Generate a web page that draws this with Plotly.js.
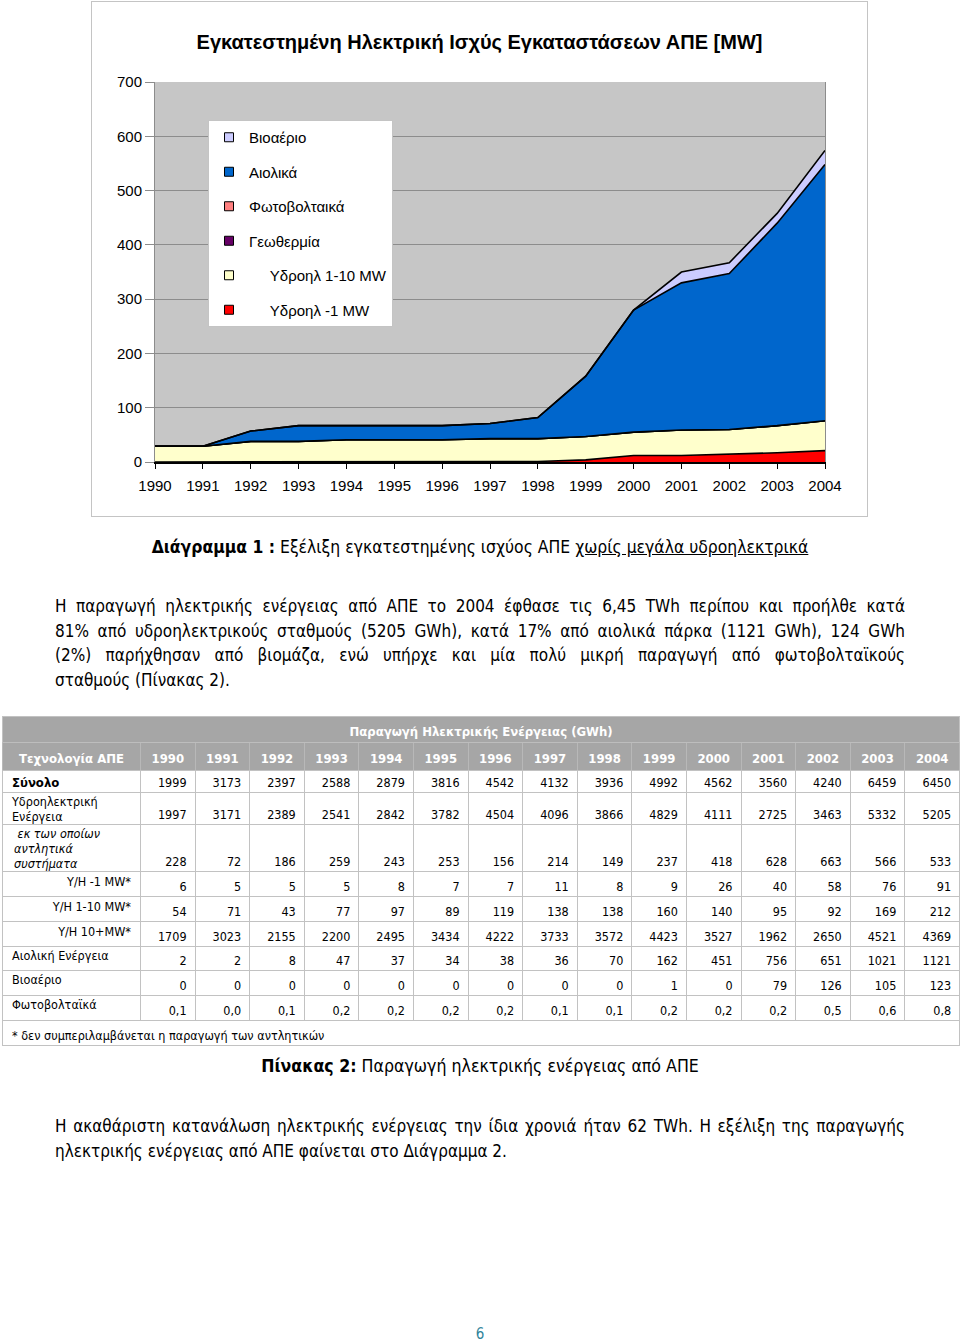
<!DOCTYPE html>
<html>
<head>
<meta charset="utf-8">
<script src="https://cdn.plot.ly/plotly-3.0.1.min.js"></script>
<style>
  html, body { margin: 0; padding: 0; }
  body { width: 960px; height: 1342px; position: relative; background: #fff; overflow: hidden;
         font-family: "DejaVu Sans", Verdana, sans-serif; font-stretch: condensed; color: #000; }
  #chartWrap { position: absolute; left: 91px; top: 1px; width: 775px; height: 514px; border: 1px solid #c4c4c4; font-stretch: normal; }
  #chart { width: 775px; height: 514px; }
  .cap { position: absolute; left: 0; width: 960px; text-align: center; white-space: nowrap; }
  .para { position: absolute; left: 55px; width: 850px; font-size: 17px; line-height: 24.5px; }
  .para .j { text-align: justify; text-align-last: justify; }
  .para .l { text-align: left; }
  #tbl { position: absolute; left: 2px; top: 716px; border-collapse: collapse; table-layout: fixed; width: 957px; font-size: 12.5px; }
  #tbl td { border: 1px solid #c2c2c2; padding: 0; overflow: hidden; white-space: nowrap; }
  #tbl tr.title td { background: #a6a6a6; color: #fff; font-weight: bold; text-align: center; font-size: 13px; height: 21px; border-bottom: 1px solid #bdbdbd; padding-top: 4px; }
  #tbl tr.head td { background: #a6a6a6; color: #fff; font-weight: bold; text-align: center; font-size: 13px; height: 23px; border-left: 1px solid #b8b8b8; border-right: 1px solid #b8b8b8; border-top: 1px solid #b8b8b8; padding-top: 4px; }
  #tbl td.v { text-align: right; vertical-align: bottom; padding-right: 8px; padding-bottom: 2px; }
  #tbl td.lab { vertical-align: top; padding-left: 9px; line-height: 15px; padding-top: 1px; }
  #tbl td.lab.bold { font-weight: bold; vertical-align: bottom; padding-bottom: 2px; font-size: 13px; }
  #tbl td.lab.it { font-style: italic; padding-left: 11px; }
  #tbl td.lab.rt { text-align: right; padding-right: 9px; padding-left: 0; padding-top: 2px; }
  #tbl td.foot { padding-left: 9px; vertical-align: bottom; padding-bottom: 2px; }
  #pg { position: absolute; left: 0; width: 960px; top: 1325px; text-align: center; font-size: 15px; color: #31849b; }
</style>
</head>
<body>
<div id="chartWrap"><div id="chart"></div></div>

<div class="cap" style="top:537px; font-size:17.4px;"><b>Διάγραμμα 1 :</b> Εξέλιξη εγκατεστημένης ισχύος ΑΠΕ <u>χωρίς μεγάλα υδροηλεκτρικά</u></div>

<div class="para" style="top:594px;">
  <div class="j">Η παραγωγή ηλεκτρικής ενέργειας από ΑΠΕ το 2004 έφθασε τις 6,45 TWh περίπου και προήλθε κατά</div>
  <div class="j">81% από υδροηλεκτρικούς σταθμούς (5205 GWh), κατά 17% από αιολικά πάρκα (1121 GWh), 124 GWh</div>
  <div class="j">(2%) παρήχθησαν από βιομάζα, ενώ υπήρχε και μία πολύ μικρή παραγωγή από φωτοβολταϊκούς</div>
  <div class="l">σταθμούς (Πίνακας 2).</div>
</div>

<table id="tbl"></table>

<div class="cap" style="top:1056px; font-size:17.6px;"><b>Πίνακας 2:</b> Παραγωγή ηλεκτρικής ενέργειας από ΑΠΕ</div>

<div class="para" style="top:1114px;">
  <div class="j">Η ακαθάριστη κατανάλωση ηλεκτρικής ενέργειας την ίδια χρονιά ήταν 62 TWh. Η εξέλιξη της παραγωγής</div>
  <div class="l">ηλεκτρικής ενέργειας από ΑΠΕ φαίνεται στο Διάγραμμα 2.</div>
</div>

<div id="pg">6</div>

<script>
// ---------- Chart data: installed capacity [MW] ----------
var years = [1990, 1991, 1992, 1993, 1994, 1995, 1996, 1997, 1998, 1999, 2000, 2001, 2002, 2003, 2004];
var hydroUnder1MW = [0, 0, 0, 0, 0, 0, 0, 1, 1, 4, 12, 12, 14, 17, 21];
var hydro1to10MW  = [29, 29, 38, 38, 41, 41, 41, 42, 42, 43, 43, 47, 46, 50, 55];
var geothermal    = [0, 0, 0, 0, 0, 0, 0, 0, 0, 0, 0, 0, 0, 0, 0];
var photovoltaic  = [0, 0, 0, 0, 0, 0, 0, 0, 0, 0, 0, 0, 0, 0, 0];
var wind          = [0, 0, 19, 29, 26, 26, 26, 28, 39, 111, 225, 271, 287, 373, 472];
var biogas        = [0, 0, 0, 0, 0, 0, 0, 0, 0, 0, 0, 20, 20, 18, 26];
var yTicks = [0, 100, 200, 300, 400, 500, 600, 700];

var seriesNames = ['Υδροηλ -1 MW', 'Υδροηλ 1-10 MW', 'Γεωθερμία', 'Φωτοβολταικά', 'Αιολικά', 'Βιοαέριο'];
var seriesData = [hydroUnder1MW, hydro1to10MW, geothermal, photovoltaic, wind, biogas];
var seriesColors = ['#ff0000', '#ffffcc', '#660066', '#ff8080', '#0066cc', '#ccccff'];
var legendIndent = ['\u00a0\u00a0\u00a0\u00a0\u00a0', '\u00a0\u00a0\u00a0\u00a0\u00a0', '', '', '', ''];

var traces = [];
for (var i = 0; i < seriesData.length; i++) {
  traces.push({
    type: 'scatter', mode: 'lines', x: years, y: seriesData[i], stackgroup: 'one',
    fillcolor: seriesColors[i], line: {color: '#000', width: 1.6}, showlegend: false, hoverinfo: 'skip'
  });
}
// legend entries (top to bottom order: Βιοαέριο ... Υδροηλ -1)
for (var k = seriesData.length - 1; k >= 0; k--) {
  traces.push({
    type: 'scatter', mode: 'markers', x: [null], y: [null], name: legendIndent[k] + seriesNames[k],
    legendgroup: 'g' + k, showlegend: true,
    marker: {symbol: 'square', size: 9, color: seriesColors[k], line: {color: '#000', width: 1}}
  });
}

var font = 'Liberation Sans, Arial, sans-serif';
var layout = {
  width: 775, height: 514,
  margin: {l: 63, r: 42, t: 80, b: 54},
  paper_bgcolor: '#ffffff', plot_bgcolor: '#c6c6c6',
  font: {family: font, size: 15, color: '#000'},
  title: {text: '<b>Εγκατεστημένη Ηλεκτρική Ισχύς Εγκαταστάσεων ΑΠΕ [MW]</b>', font: {family: font, size: 20, color: '#000'},
          xref: 'container', x: 0.5, xanchor: 'center', yref: 'container', y: 1 - 40 / 514, yanchor: 'middle'},
  xaxis: {range: [1990, 2004], tickmode: 'array', tickvals: years, ticktext: years.map(String),
          showgrid: false, zeroline: false, showline: true, linecolor: '#000', linewidth: 1.5,
          ticks: 'outside', ticklen: 5, tickcolor: '#000', tickwidth: 1, ticklabelstandoff: 4,
          tickfont: {family: font, size: 15, color: '#000'}},
  yaxis: {range: [0, 700], tickmode: 'array', tickvals: yTicks, ticktext: yTicks.map(String),
          showgrid: true, gridcolor: '#8c8c8c', gridwidth: 1, zeroline: false,
          showline: true, linecolor: '#8c8c8c', linewidth: 1, mirror: true,
          ticks: 'outside', ticklen: 9, tickcolor: '#8c8c8c', tickfont: {family: font, size: 15, color: '#000'}},
  showlegend: true,
  legend: {x: (208 - 155) / 670, y: (462 - 120) / 380, xanchor: 'left', yanchor: 'top',
           bgcolor: '#ffffff', bordercolor: '#c4c4c4', borderwidth: 1,
           traceorder: 'grouped', tracegroupgap: 12, font: {family: font, size: 15, color: '#000'}}
};
Plotly.newPlot('chart', traces, layout, {staticPlot: true, displayModeBar: false});

// ---------- Table data: electricity production [GWh] ----------
var tableTitle = 'Παραγωγή Ηλεκτρικής Ενέργειας (GWh)';
var tableHeadLabel = 'Τεχνολογία ΑΠΕ';
var tableYears = ['1990', '1991', '1992', '1993', '1994', '1995', '1996', '1997', '1998', '1999', '2000', '2001', '2002', '2003', '2004'];
var totalGWh     = ['1999', '3173', '2397', '2588', '2879', '3816', '4542', '4132', '3936', '4992', '4562', '3560', '4240', '6459', '6450'];
var hydroGWh     = ['1997', '3171', '2389', '2541', '2842', '3782', '4504', '4096', '3866', '4829', '4111', '2725', '3463', '5332', '5205'];
var pumpedGWh    = ['228', '72', '186', '259', '243', '253', '156', '214', '149', '237', '418', '628', '663', '566', '533'];
var hydroUnder1GWh = ['6', '5', '5', '5', '8', '7', '7', '11', '8', '9', '26', '40', '58', '76', '91'];
var hydro1to10GWh  = ['54', '71', '43', '77', '97', '89', '119', '138', '138', '160', '140', '95', '92', '169', '212'];
var hydroOver10GWh = ['1709', '3023', '2155', '2200', '2495', '3434', '4222', '3733', '3572', '4423', '3527', '1962', '2650', '4521', '4369'];
var windGWh      = ['2', '2', '8', '47', '37', '34', '38', '36', '70', '162', '451', '756', '651', '1021', '1121'];
var biogasGWh    = ['0', '0', '0', '0', '0', '0', '0', '0', '0', '1', '0', '79', '126', '105', '123'];
var pvGWh        = ['0,1', '0,0', '0,1', '0,2', '0,2', '0,2', '0,2', '0,1', '0,1', '0,2', '0,2', '0,2', '0,5', '0,6', '0,8'];
var tableRowLabels = ['Σύνολο', 'Υδροηλεκτρική<br>Ενέργεια', '&nbsp;εκ των οποίων<br>αντλητικά<br>συστήματα',
                      'Υ/Η -1 MW*', 'Υ/Η 1-10 MW*', 'Υ/Η 10+MW*', 'Αιολική Ενέργεια', 'Βιοαέριο', 'Φωτοβολταϊκά'];
var tableRowValues = [totalGWh, hydroGWh, pumpedGWh, hydroUnder1GWh, hydro1to10GWh, hydroOver10GWh, windGWh, biogasGWh, pvGWh];
var tableFootnote = '* δεν συμπεριλαμβάνεται η παραγωγή των αντλητικών';

var rowClass = ['bold', '', 'it', 'rt', 'rt', 'rt', '', '', ''];
var rowH = [22, 32, 47, 25, 25, 25, 24, 25, 25];

var h = '<colgroup><col style="width:138px">';
for (var c = 0; c < tableYears.length; c++) h += '<col style="width:54.6px">';
h += '</colgroup>';
h += '<tr class="title"><td colspan="' + (tableYears.length + 1) + '">' + tableTitle + '</td></tr>';
h += '<tr class="head"><td>' + tableHeadLabel + '</td>';
for (var c = 0; c < tableYears.length; c++) h += '<td>' + tableYears[c] + '</td>';
h += '</tr>';
for (var r = 0; r < tableRowLabels.length; r++) {
  h += '<tr style="height:' + rowH[r] + 'px"><td class="lab ' + rowClass[r] + '">' + tableRowLabels[r] + '</td>';
  for (var c = 0; c < tableYears.length; c++) h += '<td class="v">' + tableRowValues[r][c] + '</td>';
  h += '</tr>';
}
h += '<tr style="height:25px"><td class="foot" colspan="' + (tableYears.length + 1) + '">' + tableFootnote + '</td></tr>';
document.getElementById('tbl').innerHTML = h;
</script>
</body>
</html>
